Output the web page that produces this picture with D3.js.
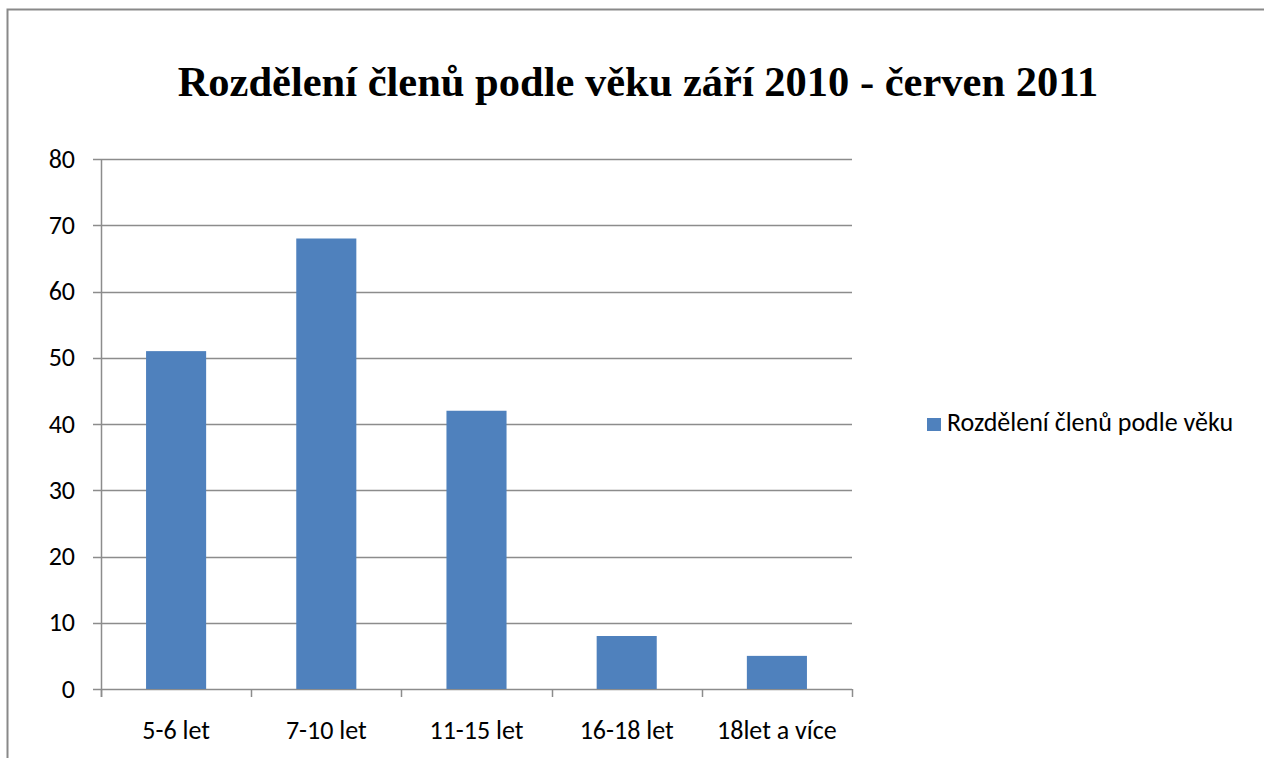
<!DOCTYPE html>
<html><head><meta charset="utf-8">
<script src="https://cdn.jsdelivr.net/npm/d3@7"></script>
<style>body{margin:0;background:#fff}svg{display:block}</style>
</head><body>
<script>
const categories = ["5-6 let", "7-10 let", "11-15 let", "16-18 let", "18let a více"];
const values = [51, 68, 42, 8, 5];
const yTicks = [0, 10, 20, 30, 40, 50, 60, 70, 80];
const seriesName = "Rozdělení členů podle věku";
const title = "Rozdělení členů podle věku září 2010 - červen 2011";

const W = 1264, H = 758;
const svg = d3.select("body").append("svg").attr("width", W).attr("height", H);
svg.append("rect").attr("x", 7.5).attr("y", 9.5).attr("width", 1300).attr("height", 800)
  .attr("fill", "#fff").attr("stroke", "#898989").attr("stroke-width", 2);

const pLeft = 101, pRight = 852, pTop = 159, pBottom = 689;
const x = d3.scaleBand().domain(categories).range([pLeft, pRight]).padding(0);
const y = d3.scaleLinear().domain([0, 80]).range([pBottom, pTop]);

const grid = "#8c8c8c";
const font = "Carlito, 'Open Sans', 'Liberation Sans', sans-serif";
const fs = 26;

svg.append("g").selectAll("line").data(yTicks).join("line")
  .attr("x1", pLeft - 8).attr("x2", pRight)
  .attr("y1", d => Math.round(y(d)) + 0.5).attr("y2", d => Math.round(y(d)) + 0.5)
  .attr("stroke", grid).attr("stroke-width", 1.5);

svg.append("line").attr("x1", pLeft + 0.5).attr("x2", pLeft + 0.5).attr("y1", pTop).attr("y2", pBottom + 8)
  .attr("stroke", grid).attr("stroke-width", 1.5);

const bw = x.bandwidth() * 0.4;
svg.append("g").selectAll("rect").data(values).join("rect")
  .attr("x", (d, i) => x(categories[i]) + (x.bandwidth() - bw) / 2)
  .attr("width", bw)
  .attr("y", d => y(d)).attr("height", d => y(0) - y(d))
  .attr("fill", "#4F81BD");

const xt = categories.map(c => x(c)).concat([pRight]);
svg.append("g").selectAll("line").data(xt).join("line")
  .attr("x1", d => Math.round(d) + 0.5).attr("x2", d => Math.round(d) + 0.5)
  .attr("y1", pBottom).attr("y2", pBottom + 8)
  .attr("stroke", grid).attr("stroke-width", 1.5);

svg.append("g").selectAll("text").data(yTicks).join("text")
  .attr("x", 75).attr("y", d => y(d) + 8.5).attr("text-anchor", "end")
  .attr("font-family", font).attr("font-size", fs).attr("fill", "#000").text(d => d);

svg.append("g").selectAll("text").data(categories).join("text")
  .attr("x", d => x(d) + x.bandwidth() / 2).attr("y", 739).attr("text-anchor", "middle")
  .attr("font-family", font).attr("font-size", fs).attr("fill", "#000").text(d => d);

svg.append("text").attr("x", 638).attr("y", 96).attr("text-anchor", "middle")
  .attr("font-family", "'Liberation Serif', 'Times New Roman', serif").attr("font-weight", "bold")
  .attr("font-size", 42.5).text(title);

svg.append("rect").attr("x", 927).attr("y", 418).attr("width", 14).attr("height", 13).attr("fill", "#4F81BD");
svg.append("text").attr("x", 947).attr("y", 430.5).attr("font-family", font).attr("font-size", fs).text(seriesName);
</script>
</body></html>
